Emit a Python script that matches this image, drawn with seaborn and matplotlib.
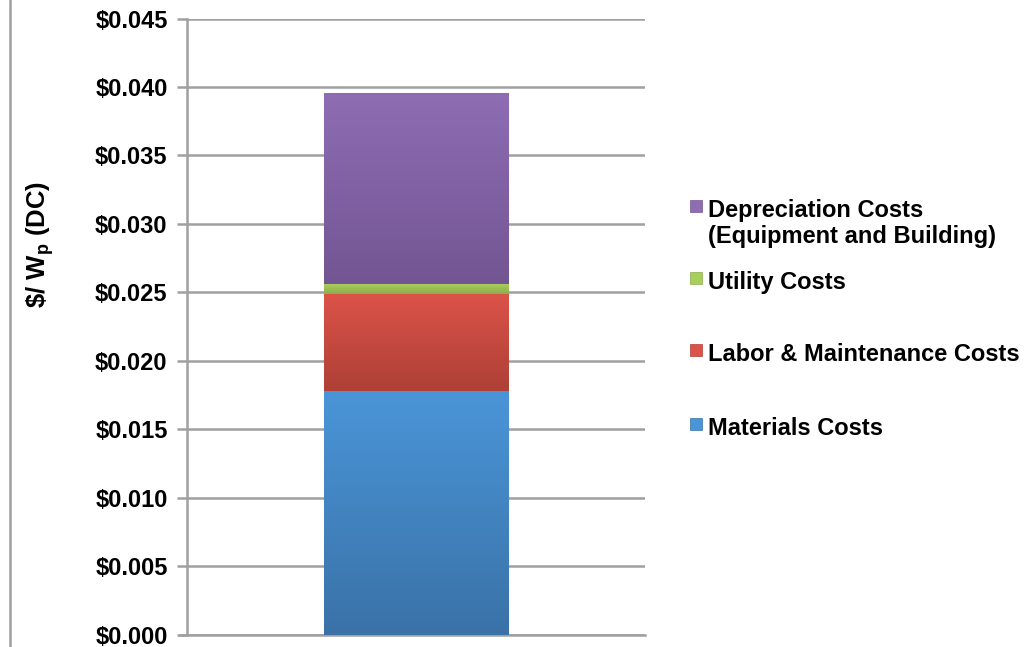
import numpy as np
import matplotlib
matplotlib.use("Agg")
import matplotlib.pyplot as plt
import seaborn as sns
from matplotlib.colors import LinearSegmentedColormap
from matplotlib.lines import Line2D
from matplotlib.patches import Rectangle

# Cost components ($/Wp DC), bottom to top of the stack
series = ["Materials Costs", "Labor & Maintenance Costs", "Utility Costs",
          "Depreciation Costs\n(Equipment and Building)"]
values = [0.0178, 0.0071, 0.0007, 0.0139]
top_colors = ["#4A95D8", "#DC5349", "#A8CE5C", "#8E6DB3"]
bottom_colors = ["#3A72A7", "#AE4036", "#8DAC4C", "#735593"]
yticks = [0.0, 0.005, 0.010, 0.015, 0.020, 0.025, 0.030, 0.035, 0.040, 0.045]

sns.set_style("white")
plt.rcParams["font.family"] = ["Liberation Sans", "DejaVu Sans"]
plt.rcParams["text.color"] = "black"
plt.rcParams["ytick.labelcolor"] = "black"
plt.rcParams["mathtext.fontset"] = "custom"
plt.rcParams["mathtext.rm"] = "Liberation Sans:bold"
plt.rcParams["mathtext.it"] = "Liberation Sans:bold"
plt.rcParams["mathtext.bf"] = "Liberation Sans:bold"

fig = plt.figure(figsize=(10.26, 6.47), dpi=100)
ax = fig.add_axes([0.1823, 0.0186, 0.4464, 0.9528])

grid_col = "#A0A0A0"
cum = np.cumsum(values)
bar_w = 0.402

# draw totals from tallest to shortest so every segment stays visible
for i in reversed(range(len(values))):
    sns.barplot(x=["Cost"], y=[cum[i]], color=top_colors[i], width=bar_w,
                ax=ax, zorder=3, linewidth=0)

# gradient fill for each stacked segment
for i in range(len(values)):
    bottom = cum[i] - values[i]
    cmap = LinearSegmentedColormap.from_list(f"g{i}", [bottom_colors[i], top_colors[i]])
    grad = np.linspace(0, 1, 256).reshape(-1, 1)
    ax.imshow(grad, extent=[-bar_w / 2, bar_w / 2, bottom, cum[i]], origin="lower",
              aspect="auto", cmap=cmap, zorder=4)

ax.set_xlim(-0.5, 0.5)
ax.set_ylim(0, 0.045)
ax.set_yticks(yticks)
ax.set_yticklabels([f"${v:.3f}" for v in yticks], fontsize=17, fontweight="bold",
                   color="black")
ax.set_xticks([])
ax.set_xlabel("")
ax.set_ylabel("")
ax.yaxis.grid(True, color=grid_col, linewidth=1.8)
ax.set_axisbelow(True)
ax.tick_params(axis="y", length=7, width=1.8, color=grid_col, pad=7, left=True)
for side in ["top", "right"]:
    ax.spines[side].set_visible(False)
for side in ["left", "bottom"]:
    ax.spines[side].set_color(grid_col)
    ax.spines[side].set_linewidth(1.8)
ax.spines["bottom"].set_bounds(-0.5 - 7 / 458, 0.5)

fig.text(40 / 1026, 1 - 244 / 647, r"\$/ W$_{\mathrm{p}}$ (DC)", rotation=90,
         fontsize=18.5, fontweight="bold", ha="center", va="center", color="black")

# left border of the chart area
fig.add_artist(Line2D([9.5 / 1026, 9.5 / 1026], [0, 1], color=grid_col, linewidth=1.8))

# legend entries, top of capitals per row (pixels from top)
W, H = 1026, 647
row_top = [418, 344, 272, 200]
for i in range(len(series)):
    yt = row_top[i]
    fig.add_artist(Rectangle((690 / W, 1 - (yt + 12) / H), 12 / W, 12 / H,
                             transform=fig.transFigure, facecolor=top_colors[i],
                             edgecolor=bottom_colors[i], linewidth=0.5))
    fig.text(708 / W, 1 - (yt - 1) / H, series[i], fontsize=17, fontweight="bold",
             ha="left", va="top", linespacing=1.14, color="black")

fig.savefig("out.png", dpi=100)
